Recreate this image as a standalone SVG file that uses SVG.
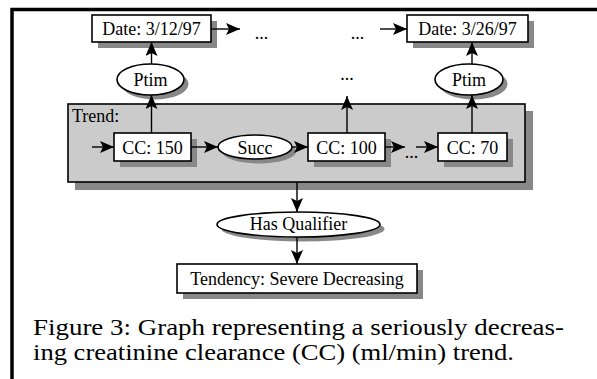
<svg xmlns="http://www.w3.org/2000/svg" width="597" height="379" viewBox="0 0 597 379">
<defs>
<style>
text{font-family:"Liberation Serif","Times New Roman",serif;fill:#000}
.lbl{font-size:18px}
.box{fill:#fff;stroke:#000;stroke-width:1.6}
.sh{fill:#888;stroke:none}
.ln{stroke:#000;stroke-width:1.4;fill:none}
.cap{font-size:24px}
</style>
<marker id="ah" viewBox="0 0 14 12" refX="14" refY="6" markerWidth="14" markerHeight="12" markerUnits="userSpaceOnUse" orient="auto">
<path d="M0,0 L14,6 L0,12 L3,6 Z" fill="#000"/>
</marker>
</defs>
<rect width="597" height="379" fill="#fff"/>
<path d="M12,379 V9.5 H597" fill="none" stroke="#000" stroke-width="3.5"/>

<g id="trend">
<rect class="sh" x="75" y="111" width="458" height="79"/>
<rect x="68" y="104" width="457" height="78" fill="#cbcbcb" stroke="#000" stroke-width="1.6"/>
<text class="lbl" x="72" y="122">Trend:</text>
</g>

<g id="date1">
<rect class="sh" x="98" y="21" width="119" height="27"/>
<rect class="box" x="92" y="15" width="119" height="27"/>
<text class="lbl" x="151.5" y="35" text-anchor="middle">Date: 3/12/97</text>
</g>
<g id="date2">
<rect class="sh" x="413" y="21" width="121" height="27"/>
<rect class="box" x="407" y="15" width="121" height="27"/>
<text class="lbl" x="467.5" y="35" text-anchor="middle">Date: 3/26/97</text>
</g>
<g id="ptim1">
<ellipse class="sh" cx="155" cy="84" rx="33.5" ry="15.5"/>
<ellipse class="box" cx="150.5" cy="79.5" rx="33.5" ry="15.5"/>
<text class="lbl" x="150.5" y="85.5" text-anchor="middle">Ptim</text>
</g>
<g id="ptim2">
<ellipse class="sh" cx="473.5" cy="84" rx="34" ry="15.5"/>
<ellipse class="box" cx="469" cy="79.5" rx="34" ry="15.5"/>
<text class="lbl" x="469" y="85.5" text-anchor="middle">Ptim</text>
</g>
<g id="cc150">
<rect class="sh" x="120" y="139" width="77" height="28"/>
<rect class="box" x="114" y="133" width="77" height="28"/>
<text class="lbl" x="152.5" y="153.5" text-anchor="middle">CC: 150</text>
</g>
<g id="succ">
<ellipse class="sh" cx="259" cy="151.5" rx="37" ry="12"/>
<ellipse class="box" cx="255" cy="147" rx="37" ry="12"/>
<text class="lbl" x="255" y="153.5" text-anchor="middle">Succ</text>
</g>
<g id="cc100">
<rect class="sh" x="314" y="139" width="77" height="28"/>
<rect class="box" x="308" y="133" width="77" height="28"/>
<text class="lbl" x="346.5" y="153.5" text-anchor="middle">CC: 100</text>
</g>
<g id="cc70">
<rect class="sh" x="444" y="139" width="69" height="28"/>
<rect class="box" x="438" y="133" width="69" height="28"/>
<text class="lbl" x="472.5" y="153.5" text-anchor="middle">CC: 70</text>
</g>
<g id="hasqual">
<ellipse class="sh" cx="303" cy="229" rx="81.5" ry="12.5"/>
<ellipse class="box" cx="298.5" cy="224.5" rx="81.5" ry="12.5"/>
<text class="lbl" x="298.5" y="229.5" text-anchor="middle">Has Qualifier</text>
</g>
<g id="tendency">
<rect class="sh" x="183" y="270" width="240" height="29"/>
<rect class="box" x="177" y="264" width="240" height="29"/>
<text class="lbl" x="297" y="285" text-anchor="middle">Tendency: Severe Decreasing</text>
</g>

<g id="ellipses">
<text class="lbl" x="261.5" y="39" text-anchor="middle">...</text>
<text class="lbl" x="357.5" y="39" text-anchor="middle">...</text>
<text class="lbl" x="347" y="80" text-anchor="middle">...</text>
<text class="lbl" x="411.5" y="158" text-anchor="middle">...</text>
</g>

<g id="connectors">
<line class="ln" x1="211" y1="29" x2="240" y2="29" marker-end="url(#ah)"/>
<line class="ln" x1="380" y1="29" x2="407" y2="29" marker-end="url(#ah)"/>
<line class="ln" x1="151.5" y1="64" x2="151.5" y2="42" marker-end="url(#ah)"/>
<line class="ln" x1="151.5" y1="133" x2="151.5" y2="95" marker-end="url(#ah)"/>
<line class="ln" x1="347" y1="133" x2="347" y2="96" marker-end="url(#ah)"/>
<line class="ln" x1="472" y1="64" x2="472" y2="42" marker-end="url(#ah)"/>
<line class="ln" x1="472" y1="133" x2="472" y2="95" marker-end="url(#ah)"/>
<line class="ln" x1="92" y1="147" x2="114" y2="147" marker-end="url(#ah)"/>
<line class="ln" x1="191" y1="147" x2="218" y2="147" marker-end="url(#ah)"/>
<line class="ln" x1="292" y1="147" x2="308" y2="147" marker-end="url(#ah)"/>
<line class="ln" x1="385" y1="147" x2="405" y2="147" marker-end="url(#ah)"/>
<line class="ln" x1="416" y1="147" x2="438" y2="147" marker-end="url(#ah)"/>
<line class="ln" x1="297" y1="182" x2="297" y2="212" marker-end="url(#ah)"/>
<line class="ln" x1="297" y1="237" x2="297" y2="264" marker-end="url(#ah)"/>
</g>

<g id="caption">
<text class="cap" x="33" y="335" textLength="531" lengthAdjust="spacingAndGlyphs">Figure 3: Graph representing a seriously decreas-</text>
<text class="cap" x="33" y="360" textLength="481" lengthAdjust="spacingAndGlyphs">ing creatinine clearance (CC) (ml/min) trend.</text>
</g>
</svg>
